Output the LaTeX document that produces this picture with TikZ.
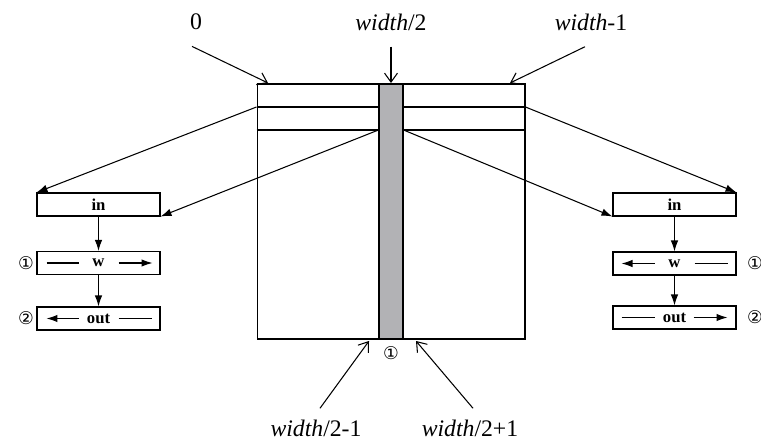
\documentclass[tikz,border=0pt]{standalone}
\usepackage{fontspec}
\setmainfont{Liberation Serif}
\newfontfamily\circfont{DejaVu Sans}
\usetikzlibrary{arrows.meta,calc}
\definecolor{stripgray}{RGB}{178,178,181}
\tikzset{
  >={Latex[length=2.2mm,width=1.5mm]},
  ob/.style={-{Straight Barb[length=1.8mm,width=2.6mm]}},
  box/.style={draw,minimum width=2.46cm,minimum height=0.46cm,inner sep=0pt,font=\fontsize{9.5}{11}\selectfont\bfseries},
  lbl/.style={font=\fontsize{13.5}{16}\selectfont},
  num/.style={font=\circfont\fontsize{10}{12}\selectfont},
  every picture/.style={line width=0.6pt},
}
\begin{document}
\begin{tikzpicture}[x=0.02cm,y=-0.02cm]
\useasboundingbox (0,0) rectangle (761,446);
% main block
\node[draw,minimum width=5.36cm,minimum height=5.1cm,inner sep=0pt] (img) at (391,211.5){};
\coordinate (r1) at (0,107); \coordinate (r2) at (0,130);
\draw (img.west |- r1) -- (img.east |- r1); \draw (img.west |- r2) -- (img.east |- r2);
\node[draw,fill=stripgray,minimum width=0.48cm,minimum height=5.1cm,inner sep=0pt] (mid) at (391,211.5){};
% top labels
\node[lbl] (t0) at (196,22){0}; \node[lbl] (tm) at (391,22){\textit{width}/2}; \node[lbl] (tw) at (591,22){\textit{width}-1};
\coordinate (e0) at (268,83); \coordinate (em) at (391,83); \coordinate (ew) at (510,83);
\draw[ob] ($(t0.south)+(-4,10)$) -- (e0); \draw[ob] ($(tm.south)+(0,10)$) -- (em); \draw[ob] ($(tw.south)+(-6,10)$) -- (ew);
% left column
\node[box] (lin) at (98.5,204.5){in}; \node[box] (lw) at (98.5,263){w}; \node[box] (lout) at (98.5,318.5){out};
\draw[->] (lin) -- (lw); \draw[->] (lw) -- (lout);
\draw ($(lw.center)+(-52,0)$) -- ($(lw.center)+(-20,0)$); \draw[->] ($(lw.center)+(20,0)$) -- ($(lw.center)+(54,0)$);
\draw[->] ($(lout.center)+(-20,0)$) -- ($(lout.center)+(-52,0)$); \draw ($(lout.center)+(20,0)$) -- ($(lout.center)+(53,0)$);
\node[num] (lc1) at (26,263){①}; \node[num] (lc2) at (26,318.5){②};
% right column
\node[box] (rin) at (674.5,204.5){in}; \node[box] (rw) at (674.5,263.5){w}; \node[box] (rout) at (674.5,317.5){out};
\draw[->] (rin) -- (rw); \draw[->] (rw) -- (rout);
\draw[->] ($(rw.center)+(-20,0)$) -- ($(rw.center)+(-53,0)$); \draw ($(rw.center)+(20,0)$) -- ($(rw.center)+(53,0)$);
\draw ($(rout.center)+(-53,0)$) -- ($(rout.center)+(-20,0)$); \draw[->] ($(rout.center)+(19,0)$) -- ($(rout.center)+(53,0)$);
\node[num] (rc1) at (755,263.5){①}; \node[num] (rc2) at (755,317.5){②};
% rows to buffers
\draw[->] (img.west |- r1) -- (lin.north west); \draw[->] (mid.west |- r2) -- (lin.south east);
\draw[->] (img.east |- r1) -- (rin.north east); \draw[->] (mid.east |- r2) -- (rin.south west);
% bottom labels
\node[num] (bc1) at (391,353){①};
\node[lbl] (b1) at (316,428){\textit{width}/2-1}; \node[lbl] (b2) at (470,428){\textit{width}/2+1};
\coordinate (e1) at (369,341); \coordinate (e2) at (416,341);
\draw[ob] ($(b1.north)+(4,-5)$) -- (e1); \draw[ob] ($(b2.north)+(3,-5)$) -- (e2);
\end{tikzpicture}
\end{document}
